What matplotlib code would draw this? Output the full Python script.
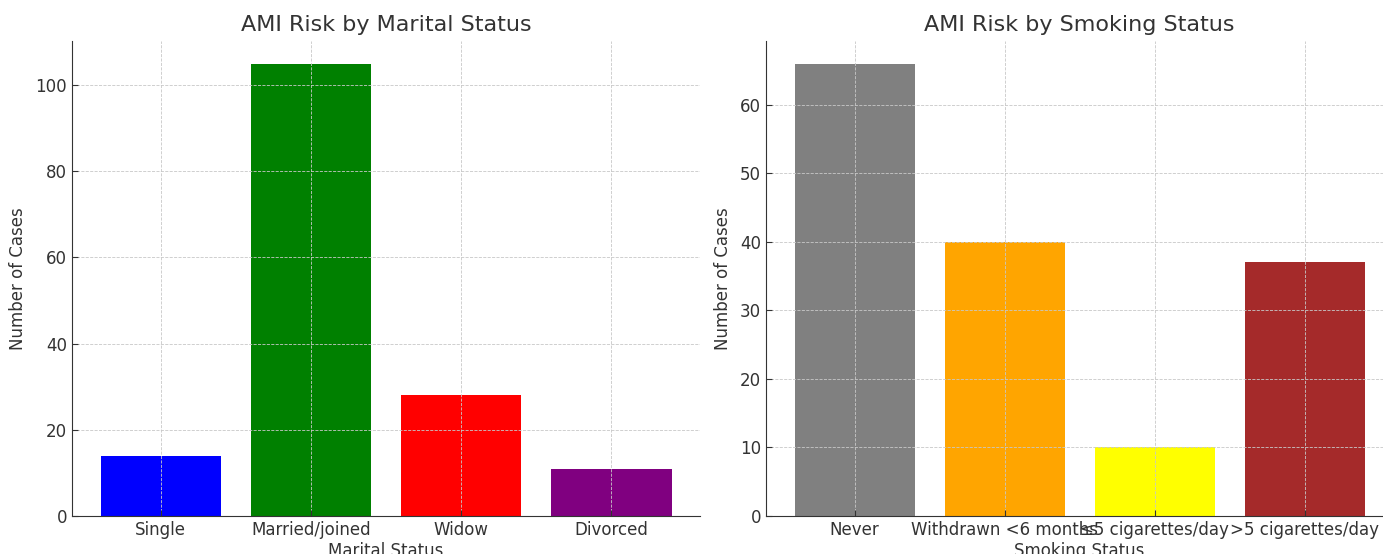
import matplotlib.pyplot as plt

# data
marital_labels = ["Single", "Married/joined", "Widow", "Divorced"]
marital_cases = [14, 105, 28, 11]
marital_colors = ["blue", "green", "red", "purple"]

smoking_labels = ["Never", "Withdrawn <6 months", "≤5 cigarettes/day", ">5 cigarettes/day"]
smoking_cases = [66, 40, 10, 37]
smoking_colors = ["gray", "orange", "yellow", "brown"]

text_col = "#333333"
plt.rcParams["font.family"] = ["DejaVu Sans"]
plt.rcParams["text.color"] = text_col
plt.rcParams["axes.labelcolor"] = text_col
plt.rcParams["xtick.color"] = text_col
plt.rcParams["ytick.color"] = text_col

fig = plt.figure(figsize=(13.83, 5.54), dpi=100)

ax1 = fig.add_axes([0.0521, 0.0686, 0.4541, 0.8574])
ax2 = fig.add_axes([0.5539, 0.0686, 0.4534, 0.8574])


def draw(ax, labels, values, colors, title, xlabel):
    ax.bar(labels, values, color=colors, width=0.8)
    ax.set_title(title, fontsize=16, color=text_col, pad=7)
    ax.set_xlabel(xlabel, fontsize=12, labelpad=2)
    ax.set_ylabel("Number of Cases", fontsize=12, labelpad=6)
    ax.tick_params(axis="both", labelsize=12, direction="in", length=4, color=text_col)
    ax.grid(True, linestyle="--", linewidth=0.6, color="#c8c8c8")
    ax.spines["top"].set_visible(False)
    ax.spines["right"].set_visible(False)
    ax.spines["left"].set_color(text_col)
    ax.spines["bottom"].set_color(text_col)


draw(ax1, marital_labels, marital_cases, marital_colors,
     "AMI Risk by Marital Status", "Marital Status")
draw(ax2, smoking_labels, smoking_cases, smoking_colors,
     "AMI Risk by Smoking Status", "Smoking Status")

fig.savefig("out.png", dpi=100)
